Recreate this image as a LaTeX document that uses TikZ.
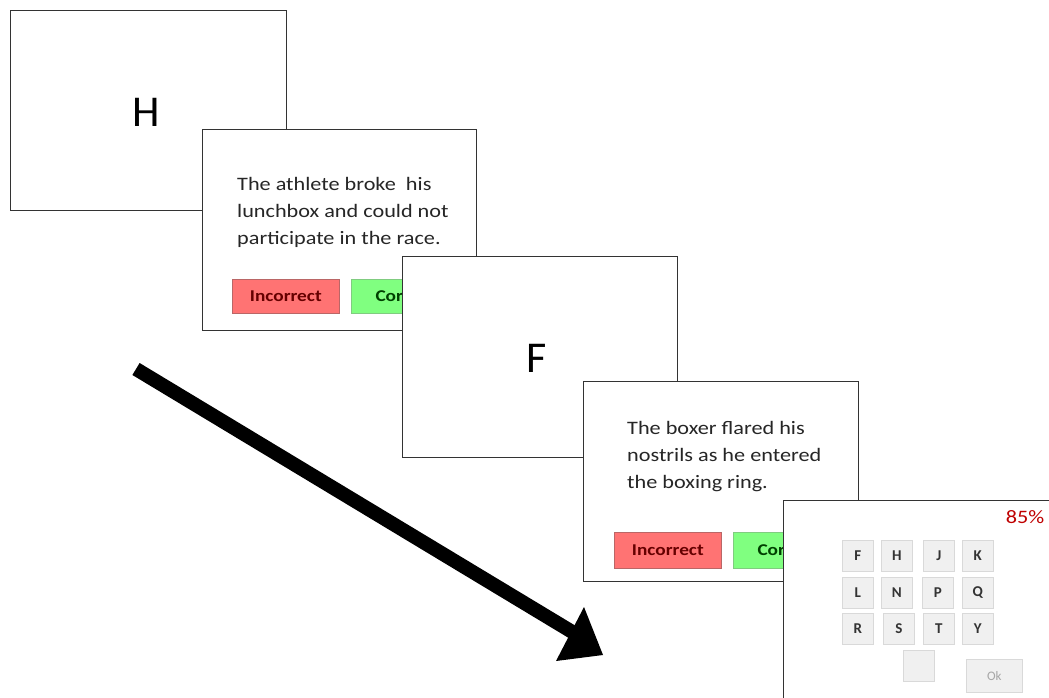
\documentclass[tikz,border=0pt]{standalone}
\usepackage{fontspec}
\setmainfont{Carlito}
\newfontfamily\widefont[FakeStretch=1.17]{Carlito}
\begin{document}
\begin{tikzpicture}[x=1pt,y=-1pt,
  screen/.style={draw=black!80,line width=1.3pt,fill=white,anchor=north west,inner sep=0pt},
  letter/.style={font=\fontsize{44}{50}\selectfont},
  sentence/.style={anchor=north west,align=left,inner sep=0pt,font=\widefont\fontsize{19}{27}\selectfont,text=black!85},
  redbtn/.style={draw=red!55!black!60,fill=red!55,line width=0.6pt,anchor=north west,inner sep=0pt,font=\widefont\fontsize{16.5}{16}\selectfont\bfseries,text=red!40!black},
  greenbtn/.style={draw=green!60!black!50,fill=green!50,line width=0.6pt,anchor=north west,inner sep=0pt,font=\widefont\fontsize{16.5}{16}\selectfont\bfseries,text=green!25!black},
  key/.style={draw=black!15,fill=black!6,line width=0.6pt,anchor=north west,inner sep=0pt,minimum width=31pt,minimum height=31pt,font=\fontsize{15}{15}\selectfont\bfseries,text=black!80}
]
\useasboundingbox (0,0) rectangle (1049,698);
\clip (0,0) rectangle (1049,698);
% screen 1
\node[screen,minimum width=276pt,minimum height=200pt] (s1) at (10,10) {};
\node[letter] (h) at (146,112) {H};
% screen 2
\node[screen,minimum width=274pt,minimum height=201pt] (s2) at (202,129) {};
\node[sentence] (t1) at (237,177) {The athlete broke\ \ his\\lunchbox and could not\\participate in the race.};
\node[redbtn,minimum width=107pt,minimum height=34pt] (b1) at (232,279) {Incorrect};
\node[greenbtn,minimum width=107pt,minimum height=34pt] (b2) at (351,279) {Correct};
% screen 3
\node[screen,minimum width=275pt,minimum height=201pt] (s3) at (402,256) {};
\node[letter] (f) at (537,358) {F};
% screen 4
\node[screen,minimum width=275pt,minimum height=200pt] (s4) at (583,381) {};
\node[sentence] (t2) at (627,421) {The boxer flared his\\nostrils as he entered\\the boxing ring.};
\node[redbtn,minimum width=107pt,minimum height=36pt] (b3) at (614,532) {Incorrect};
\node[greenbtn,minimum width=107pt,minimum height=36pt] (b4) at (733,532) {Correct};
% screen 5
\node[screen,minimum width=280pt,minimum height=210pt] (s5) at (783,500) {};
\node[text=red!75!black,font=\widefont\fontsize{19}{19}\selectfont] (pc) at (1025,517) {85\%};
\node[key] (kF) at (842,540) {F};
\node[key] (kH) at (881,540) {H};
\node[key] (kJ) at (923,540) {J};
\node[key] (kK) at (962,540) {K};
\node[key] (kL) at (842,577) {L};
\node[key] (kN) at (881,577) {N};
\node[key] (kP) at (922,577) {P};
\node[key] (kQ) at (962,577) {Q};
\node[key] (kR) at (842,613) {R};
\node[key] (kS) at (883,613) {S};
\node[key] (kT) at (923,613) {T};
\node[key] (kY) at (962,613) {Y};
\node[key] (blank) at (903,650) {};
\node[key,minimum width=56pt,minimum height=33pt,font=\fontsize{13}{13}\selectfont,text=black!35] (ok) at (966,659) {Ok};
% big arrow
\coordinate (as) at (136,369);
\coordinate (ae) at (574,633);
\coordinate (ab1) at (584,607);
\coordinate (ab2) at (556,661);
\coordinate (tip) at (603,655);
\draw[line width=14pt] (as) -- (ae);
\fill (ab1) -- (tip) -- (ab2) -- cycle;
\end{tikzpicture}
\end{document}
